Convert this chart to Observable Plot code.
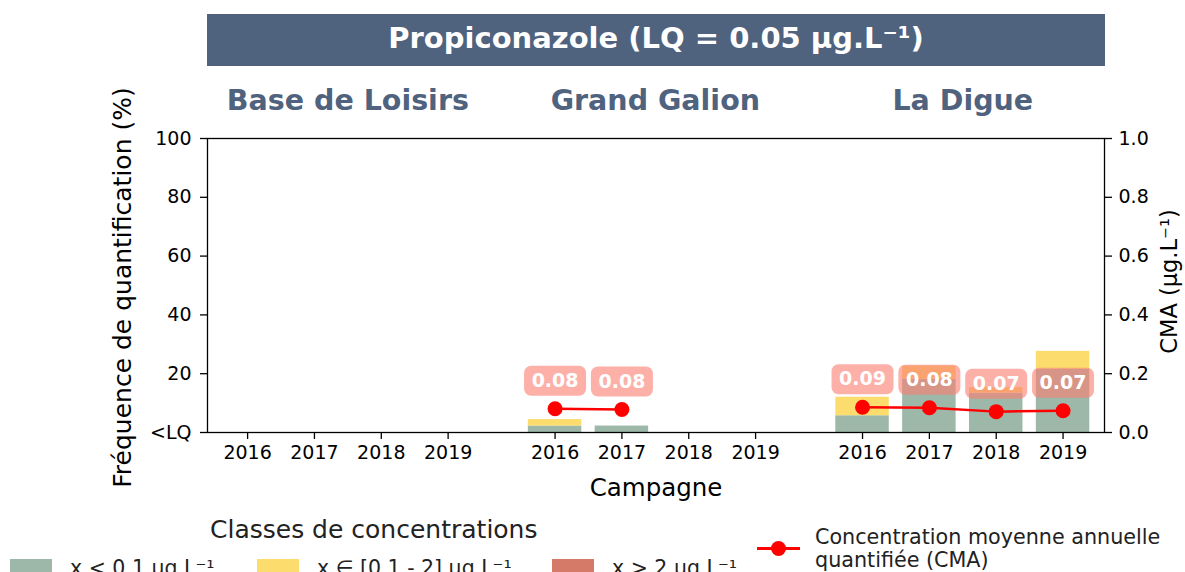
<!DOCTYPE html>
<html><head><meta charset="utf-8">
<script src="https://cdn.jsdelivr.net/npm/d3@7"></script>
<script src="https://cdn.jsdelivr.net/npm/@observablehq/plot@0.6"></script>
<style>
body{margin:0;background:#fff;font-family:"DejaVu Sans",sans-serif;}
#wrap{position:relative;width:1185px;height:572px;overflow:hidden;background:#fff;}
#wrap svg{position:absolute;left:0;top:0;}
.abs{position:absolute;white-space:nowrap;}
#title{left:207px;top:14px;width:898px;height:52px;background:#4f627e;color:#fff;font-weight:bold;font-size:29px;line-height:48px;text-align:center;}
</style></head><body><div id="wrap"></div>
<script>
// ---- data ----
const title = "Propiconazole (LQ = 0.05 µg.L⁻¹)";
const stations = ["Base de Loisirs", "Grand Galion", "La Digue"];
const years = ["2016", "2017", "2018", "2019"];
const classNames = ["x < 0.1 µg.L⁻¹", "x ∈ [0.1 - 2] µg.L⁻¹", "x > 2 µg.L⁻¹"];
const classColors = ["#9db8a9", "#fcdc6d", "#d57a68"];
// frequency (%) per class, per station (rows) and year (columns)
const freqLow  = [[0, 0, 0, 0], [2.2, 2.2, 0, 0], [5.7, 18.1, 13.4, 21.5]];
const freqMid  = [[0, 0, 0, 0], [2.2, 0, 0, 0],   [6.3, 4.5, 1.9, 6.1]];
const freqHigh = [[0, 0, 0, 0], [0, 0, 0, 0],     [0, 0, 0, 0]];
// CMA (µg/L)
const cma = [[null, null, null, null], [0.081, 0.078, null, null], [0.086, 0.084, 0.071, 0.074]];
const freqTicks = [0, 20, 40, 60, 80, 100];
const freqTickLabels = ["<LQ", "20", "40", "60", "80", "100"];
const cmaTicks = [0, 0.2, 0.4, 0.6, 0.8, 1.0];
const cmaTickLabels = ["0.0", "0.2", "0.4", "0.6", "0.8", "1.0"];
const yLabel = "Fréquence de quantification (%)";
const y2Label = "CMA (µg.L⁻¹)";
const xLabel = "Campagne";
const legendTitle = "Classes de concentrations";
const cmaLegend = ["Concentration moyenne annuelle", "quantifiée (CMA)"];

// ---- layout helpers ----
const GROUP_STEP = 4.6, BAR_HALF = 0.4;
const pos = (g, i) => g * GROUP_STEP + i;
const classes = [freqLow, freqMid, freqHigh];

const bars = [];
stations.forEach((s, g) => years.forEach((y, i) => {
  let base = 0;
  classes.forEach((arr, c) => {
    const v = arr[g][i];
    if (v > 0) bars.push({x1: pos(g, i) - BAR_HALF, x2: pos(g, i) + BAR_HALF, y1: base, y2: base + v, cls: classNames[c]});
    base += v;
  });
}));
const pts = [];
stations.forEach((s, g) => years.forEach((y, i) => {
  if (cma[g][i] != null) pts.push({x: pos(g, i), y: cma[g][i] * 100, v: cma[g][i], station: s});
}));
const ticksX = [], tickLbl = new Map();
stations.forEach((s, g) => years.forEach((y, i) => { ticksX.push(pos(g, i)); tickLbl.set(pos(g, i).toFixed(3), y); }));
const groupCenters = stations.map((s, g) => ({s, x: pos(g, 1.5)}));

const labelBox = {
  draw(ctx) {
    const w = 31, h = 15, r = 7;
    ctx.moveTo(-w + r, -h); ctx.lineTo(w - r, -h); ctx.arcTo(w, -h, w, -h + r, r);
    ctx.lineTo(w, h - r); ctx.arcTo(w, h, w - r, h, r);
    ctx.lineTo(-w + r, h); ctx.arcTo(-w, h, -w, h - r, r);
    ctx.lineTo(-w, -h + r); ctx.arcTo(-w, -h, -w + r, -h, r); ctx.closePath();
  }
};
const fmt = d3.format(".2f");

const chart = Plot.plot({
  width: 1185, height: 572,
  marginTop: 138, marginBottom: 140, marginLeft: 207, marginRight: 81,
  style: {fontFamily: "DejaVu Sans", fontSize: "19px", color: "#000", background: "transparent"},
  x: {type: "linear", domain: [-0.6, 12.82], axis: null},
  y: {domain: [0, 100], axis: null},
  color: {domain: classNames, range: classColors},
  marks: [
    Plot.rect(bars, {x1: "x1", x2: "x2", y1: "y1", y2: "y2", fill: d => classColors[classNames.indexOf(d.cls)]}),
    Plot.frame({stroke: "#000", strokeWidth: 1.3}),
    Plot.axisX(ticksX, {tickSize: 7, tickPadding: 6, tickFormat: d => tickLbl.get(d.toFixed(3)), fontSize: 19, strokeWidth: 1.3, label: null}),
    Plot.axisY(freqTicks, {anchor: "left", tickSize: 7, tickPadding: 9, tickFormat: (d) => freqTickLabels[freqTicks.indexOf(d)], fontSize: 19, strokeWidth: 1.3, label: null}),
    Plot.axisY(cmaTicks.map(v => v * 100), {anchor: "right", tickSize: 7, tickPadding: 7, tickFormat: (d) => cmaTickLabels[Math.round(d / 20)], fontSize: 19, strokeWidth: 1.3, label: null}),
    Plot.text([yLabel], {frameAnchor: "left", dx: -85, dy: 2, rotate: -90, textAnchor: "middle", lineAnchor: "middle", fontSize: 25}),
    Plot.text([y2Label], {frameAnchor: "right", dx: 65, dy: -4, rotate: -90, textAnchor: "middle", lineAnchor: "middle", fontSize: 22.5}),
    Plot.text([xLabel], {frameAnchor: "bottom", dy: 56, lineAnchor: "middle", fontSize: 24.5}),
    Plot.text(groupCenters, {x: "x", text: "s", frameAnchor: "top", dy: -38, lineAnchor: "middle", fontSize: 28.5, fontWeight: "bold", fill: "#4f627e"}),
    Plot.dot(pts, {x: "x", y: "y", dy: -28, symbol: labelBox, fill: "#fa8072", fillOpacity: 0.62, stroke: "none"}),
    Plot.line(pts, {x: "x", y: "y", z: "station", stroke: "#ff0000", strokeWidth: 2.5}),
    Plot.dot(pts, {x: "x", y: "y", r: 7.5, fill: "#ff0000", stroke: "none"}),
    Plot.text(pts, {x: "x", y: "y", dy: -28, text: d => fmt(d.v), fill: "#fff", fontWeight: "bold", fontSize: 19})
  ]
});

const wrap = document.getElementById("wrap");
wrap.appendChild(chart);
function add(html, style, cls = "abs") {
  const el = document.createElement("div");
  el.className = cls; el.innerHTML = html; Object.assign(el.style, style); wrap.appendChild(el); return el;
}
add(title, {}, "abs").id = "title";
add(legendTitle, {left: "210px", top: "514px", fontSize: "25px", lineHeight: "32px", color: "#222"});
const swLeft = [10, 257, 552];
classNames.forEach((c, k) => {
  add("", {left: swLeft[k] + "px", top: "559px", width: "42px", height: "20px", background: classColors[k]});
  add(c, {left: (swLeft[k] + 60) + "px", top: "555px", fontSize: "20.5px", lineHeight: "26px", color: "#222"});
});
add("", {left: "757px", top: "546.5px", width: "43px", height: "3px", background: "#ff0000"});
add("", {left: "771px", top: "540.5px", width: "15px", height: "15px", borderRadius: "50%", background: "#ff0000"});
add(cmaLegend[0], {left: "815px", top: "525px", fontSize: "20.7px", lineHeight: "24px", color: "#222"});
add(cmaLegend[1], {left: "815px", top: "548px", fontSize: "20.7px", lineHeight: "24px", color: "#222"});
</script></body></html>
